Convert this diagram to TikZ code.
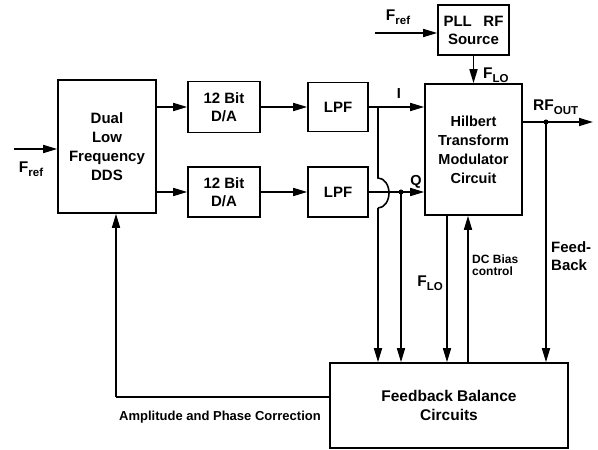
\documentclass[tikz,border=0pt]{standalone}
\usepackage{fontspec}
\setmainfont{Liberation Sans}
\usetikzlibrary{arrows.meta,calc}
\newcommand\subtxt[2]{#1\raisebox{-0.5ex}{\fontsize{11.5}{11.5}\selectfont #2}}
\begin{document}
\begin{tikzpicture}[x=1pt,y=1pt,
  every node/.style={font=\bfseries},
  blk/.style={draw, line width=1.6pt, inner sep=0pt, align=center},
  wire/.style={line width=1.6pt},
  arr/.style={wire, -{Triangle[length=14pt,width=8pt]}},
  dot/.style={circle, fill, inner sep=0pt, minimum size=5pt},
  lbl/.style={inner sep=0pt}]
\useasboundingbox (0,0) rectangle (598,450);
% blocks
\node[blk, minimum width=98pt, minimum height=133pt, font=\bfseries\fontsize{15}{19}\selectfont] (dds) at (107,303.5) {Dual\\Low\\Frequency\\DDS};
\node[blk, minimum width=72pt, minimum height=51pt, font=\bfseries\fontsize{15}{18}\selectfont] (da1) at (224,343) {12 Bit\\D/A};
\node[blk, minimum width=72pt, minimum height=50pt, font=\bfseries\fontsize{15}{18}\selectfont] (da2) at (224,258) {12 Bit\\D/A};
\node[blk, minimum width=60pt, minimum height=49pt, font=\bfseries\fontsize{15}{18}\selectfont] (lpf1) at (338,343) {LPF};
\node[blk, minimum width=60pt, minimum height=50pt, font=\bfseries\fontsize{15}{18}\selectfont] (lpf2) at (338,258) {LPF};
\node[blk, minimum width=97pt, minimum height=131pt, font=\bfseries\fontsize{14.5}{19}\selectfont] (hil) at (473.5,300.5) {Hilbert\\Transform\\Modulator\\Circuit};
\node[blk, minimum width=71pt, minimum height=50pt, font=\bfseries\fontsize{15}{18}\selectfont] (pll) at (473.5,420) {PLL\hspace{0.5em} RF\\Source};
\node[blk, minimum width=238pt, minimum height=85pt, font=\bfseries\fontsize{15.5}{19}\selectfont] (fb) at (449,44.5) {Feedback Balance\\Circuits};
% free ends
\coordinate (frefL) at (14,301);
\coordinate (frefP) at (375,417);
\coordinate (rfo) at (593,328);
\coordinate (ij) at (378,343);
\coordinate (jt) at (378,272);
\coordinate (jb) at (378,242);
\coordinate (corner) at (116,53);
\coordinate (flo) at (447,235);
\coordinate (dcb) at (468,87);
% connectors
\draw[arr] (frefL) -- (frefL -| dds.west);
\draw[arr] (dds.east |- da1) -- (da1.west);
\draw[arr] (dds.east |- da2) -- (da2.west);
\draw[arr] (da1.east) -- (lpf1.west);
\draw[arr] (da2.east) -- (lpf2.west);
\draw[arr] (lpf1.east) -- (lpf1.east -| hil.west);
\draw[arr] (lpf2.east) -- (lpf2.east -| hil.west);
\draw[arr] (frefP) -- (frefP -| pll.west);
\draw[arr] (pll.south) -- (hil.north);
\draw[arr] (hil.east |- rfo) -- (rfo);
\node[dot] (qd) at (401,258) {};
\node[dot] (rd) at (546,328) {};
\draw[wire] (ij) -- (jt) arc[start angle=90, end angle=-90, x radius=11pt, y radius=15pt];
\draw[arr] (jb) -- (jb |- fb.north);
\draw[arr] (qd.center) -- (qd.center |- fb.north);
\draw[arr] (flo) -- (flo |- fb.north);
\draw[arr] (dcb) -- (dcb |- hil.south);
\draw[arr] (rd.center) -- (rd.center |- fb.north);
\draw[wire] (fb.west |- corner) -- (corner);
\draw[arr] (corner) -- (corner |- dds.south);
% labels
\node[lbl, font=\bfseries\fontsize{15.5}{15.5}\selectfont] (l1) at (31,281) {\subtxt{F}{ref}};
\node[lbl, font=\bfseries\fontsize{15.5}{15.5}\selectfont] (l2) at (398,433) {\subtxt{F}{ref}};
\node[lbl, anchor=west, font=\bfseries\fontsize{15.5}{15.5}\selectfont] (l3) at (483,375) {\subtxt{F}{LO}};
\node[lbl, font=\bfseries\fontsize{14.5}{14.5}\selectfont] (l4) at (399,356) {I};
\node[lbl, font=\bfseries\fontsize{14.5}{14.5}\selectfont] (l5) at (416,268) {Q};
\node[lbl, anchor=west, font=\bfseries\fontsize{15.5}{15.5}\selectfont] (l6) at (533,343) {\subtxt{RF}{OUT}};
\node[lbl, anchor=east, font=\bfseries\fontsize{15.5}{15.5}\selectfont] (l7) at (443,167) {\subtxt{F}{LO}};
\node[lbl, anchor=north west, align=left, font=\bfseries\fontsize{12}{12}\selectfont] (l8) at (472,195) {DC Bias\\control};
\node[lbl, anchor=west, align=left, font=\bfseries\fontsize{15}{18}\selectfont] (l9) at (551,194) {Feed-\\Back};
\node[lbl, font=\bfseries\fontsize{13}{13}\selectfont] (l10) at (220,33) {Amplitude and Phase Correction};
\end{tikzpicture}
\end{document}
